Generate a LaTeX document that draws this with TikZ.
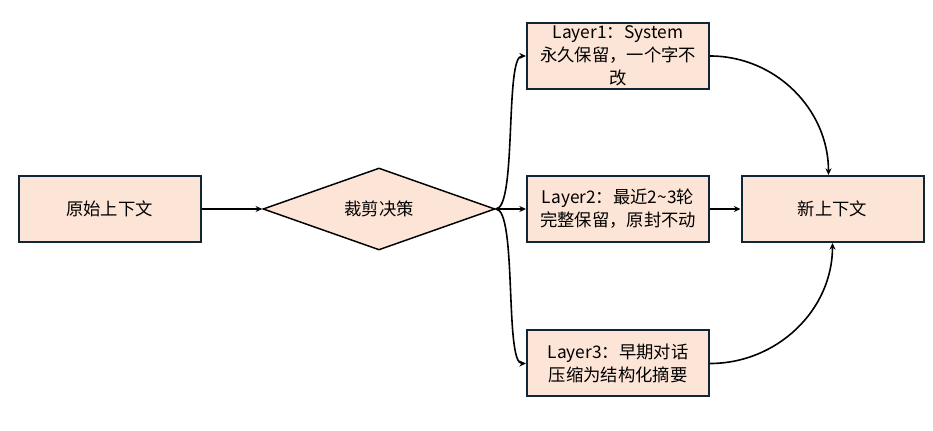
\documentclass[tikz,border=0pt]{standalone}
\usepackage{fontspec}
\setmainfont{Noto Sans CJK SC}
\usepackage{tikz}
\usetikzlibrary{shapes.geometric,arrows.meta}
\definecolor{boxfill}{RGB}{252,228,214}
\definecolor{boxline}{RGB}{16,38,54}

\begin{document}
\begin{tikzpicture}[x = .75pt, y = .75pt,
    box/.style = {draw = boxline, line width = 1.5pt, fill = boxfill, minimum width = 136.5pt, minimum height = 49.5pt, inner sep = 2pt, align = center, font = \fontsize{13}{17.2}\selectfont},
    choice/.style = {diamond, aspect = 2.8, draw = black, line width = 1.1pt, fill = boxfill, minimum width = 174pt, minimum height = 61.5pt, inner sep = 0pt, font = \fontsize{13}{17.2}\selectfont},
    conn/.style = {-{Stealth[length = 5pt, width = 4.5pt]}, line width = 1.2pt}]
    \useasboundingbox (0,0) rectangle (933,431);
    % Draw the boxes
    \node[box] (src) at (109.5,222) {原始上下文};
    \node[choice] (dec) at (379,222) {裁剪决策};
    \node[box] (lay1) at (618,375) {Layer1：System\\永久保留，一个字不\\改};
    \node[box] (lay2) at (618,222) {Layer2：最近2\textasciitilde3轮\\完整保留，原封不动};
    \node[box] (lay3) at (618,67.5) {Layer3：早期对话\\压缩为结构化摘要};
    \node[box] (new) at (832.5,222) {新上下文};
    % Draw the connectors
    \draw[conn] (src) -- (dec);
    \draw[conn] (dec.east) to[out = 0, in = 180, looseness = .35] (lay1.west);
    \draw[conn] (dec.east) -- (lay2.west);
    \draw[conn] (dec.east) to[out = 0, in = 180, looseness = .35] (lay3.west);
    \draw[conn] (lay1.east) to[out = 0, in = 90] ([xshift = -3pt]new.north);
    \draw[conn] (lay2) -- (new);
    \draw[conn] (lay3.east) to[out = 0, in = -90] (new.south);
  \end{tikzpicture}
\end{document}
